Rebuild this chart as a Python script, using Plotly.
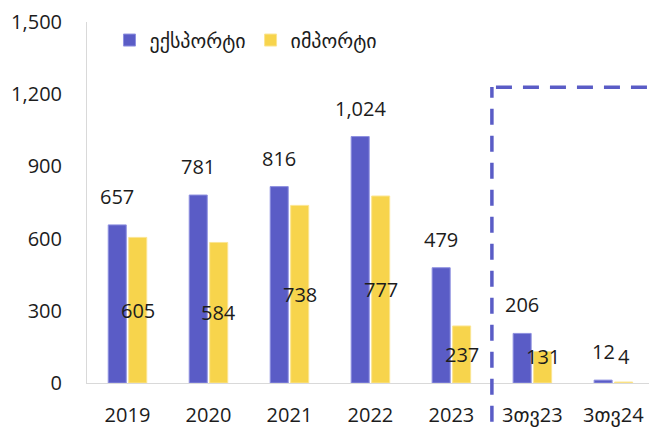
import plotly.graph_objects as go

categories = ["2019", "2020", "2021", "2022", "2023", "3თვ23", "3თვ24"]
exports = [657, 781, 816, 1024, 479, 206, 12]
imports = [605, 584, 738, 777, 237, 131, 4]
y_ticks = [0, 300, 600, 900, 1200, 1500]

BLUE = "#5a5cc6"
YELLOW = "#f7d44c"
TEXT = "#1c1c1c"
FONT = "Open Sans, DejaVu Sans, sans-serif"

fig = go.Figure()
fig.add_trace(go.Bar(x=categories, y=exports, name="ექსპორტი",
                     marker=dict(color=BLUE, line=dict(color="#8e90e0", width=1))))
fig.add_trace(go.Bar(x=categories, y=imports, name="იმპორტი",
                     marker=dict(color=YELLOW, line=dict(color="#fbe592", width=1))))

# value labels: exports above the bar, imports in the middle
off = 0.127
for i, v in enumerate(exports):
    fig.add_annotation(x=i - off, y=v, text=f"{v:,}", showarrow=False,
                       yanchor="bottom", yshift=13, font=dict(size=20, color=TEXT))
for i, v in enumerate(imports):
    fig.add_annotation(x=i + off, y=max(v / 2, 110), text=f"{v:,}", showarrow=False,
                       yanchor="middle", font=dict(size=20, color=TEXT))

# dashed frame around the quarterly figures
dash = dict(color=BLUE, width=3.5, dash="16px,11px")
fig.add_shape(type="line", xref="x", yref="paper", x0=4.5, x1=4.5, y0=-0.107, y1=0.82, line=dash)
fig.add_shape(type="line", xref="x", yref="paper", x0=4.55, x1=6.6, y0=0.819, y1=0.819, line=dash)

fig.update_layout(
    width=649, height=428,
    margin=dict(l=87, r=0, t=22, b=40),
    paper_bgcolor="white", plot_bgcolor="white",
    font=dict(family=FONT, size=20, color=TEXT),
    barmode="group", bargap=0.494, bargroupgap=0.12,
    showlegend=True,
    legend=dict(orientation="h", x=0.04, y=1.004, xanchor="left", yanchor="top",
                font=dict(size=20, color=TEXT), bgcolor="rgba(0,0,0,0)",
                itemwidth=30, traceorder="normal"),
)
fig.update_xaxes(range=[-0.5, 6.44], showline=True, linecolor="#d9d9d9", linewidth=1,
                 showgrid=False, ticks="", ticklabelstandoff=14)
fig.update_yaxes(range=[0, 1500], tickvals=y_ticks, tickformat=",", showline=True,
                 linecolor="#d9d9d9", linewidth=1, showgrid=False, zeroline=False,
                 ticks="", ticklabelstandoff=20)

fig.write_html("out.html", config={"displayModeBar": False},
               post_script="document.body.style.margin='0';")
